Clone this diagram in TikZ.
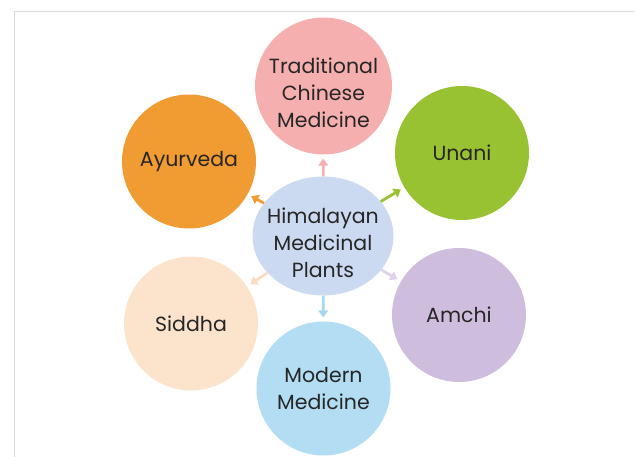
\documentclass[tikz,border=0pt]{standalone}
\usepackage{fontspec}
\setmainfont{Poppins}
\usetikzlibrary{arrows.meta, shapes.geometric}
\definecolor{tcmpink}{HTML}{F5AFAE}
\definecolor{ayurorange}{HTML}{F19B33}
\definecolor{unanigreen}{HTML}{99C232}
\definecolor{siddhapeach}{HTML}{FCE4CC}
\definecolor{amchililac}{HTML}{CFBDDE}
\definecolor{modernblue}{HTML}{B2DDF2}
\definecolor{hubblue}{HTML}{CBDAF0}
\definecolor{siddhaarrow}{HTML}{FBDCC2}
\definecolor{amchiarrow}{HTML}{DED2EA}
\definecolor{modernarrow}{HTML}{A6D6F0}
\definecolor{framegray}{HTML}{D9D9D9}
\definecolor{inkgray}{HTML}{262626}

\begin{document}
\begin{tikzpicture}
  [x=1pt,y=-1pt,
   med circle/.style={circle,minimum size=134pt,inner sep=0pt,fill=#1,align=center,
     text=inkgray,font=\fontsize{20.5}{27}\selectfont},
   link/.style={draw=#1,line width=2.8pt,shorten >=4pt,
     -{Triangle[length=7pt,width=10pt]}}]

  \useasboundingbox (0,0) rectangle (635,457);
  \draw [framegray,line width=1pt] (14,457) -- (14,11.5) -- (635,11.5);

  % first line strut pushes the three-line labels a little lower
  \node [ellipse,minimum width=141pt,minimum height=119pt,inner xsep=-12pt,inner ysep=0pt,
    fill=hubblue,align=center,text=inkgray,font=\fontsize{20.5}{27}\selectfont] (hub) at (323,236)
    {\rule{0pt}{29pt}Himalayan\\Medicinal\\Plants};

  \node [med circle = tcmpink] (tcm) at (323.5,86) {\rule{0pt}{29pt}Traditional\\Chinese\\Medicine};
  \node [med circle = ayurorange] (ayur) at (189,161.5) {Ayurveda};
  \node [med circle = unanigreen] (unani) at (462,153) {Unani};
  \node [med circle = siddhapeach] (siddha) at (191,323.5) {Siddha};
  \node [med circle = amchililac] (amchi) at (459,315) {Amchi};
  \node [med circle = modernblue] (modern) at (323.5,388.5) {Modern\\Medicine};

  \draw [link = tcmpink] (hub) -- (tcm);
  \draw [link = ayurorange] (hub) -- (ayur);
  \draw [link = unanigreen] (hub) -- (unani);
  \draw [link = siddhaarrow] (hub) -- (siddha);
  \draw [link = amchiarrow] (hub) -- (amchi);
  \draw [link = modernarrow] (hub) -- (modern);

\end{tikzpicture}
\end{document}
